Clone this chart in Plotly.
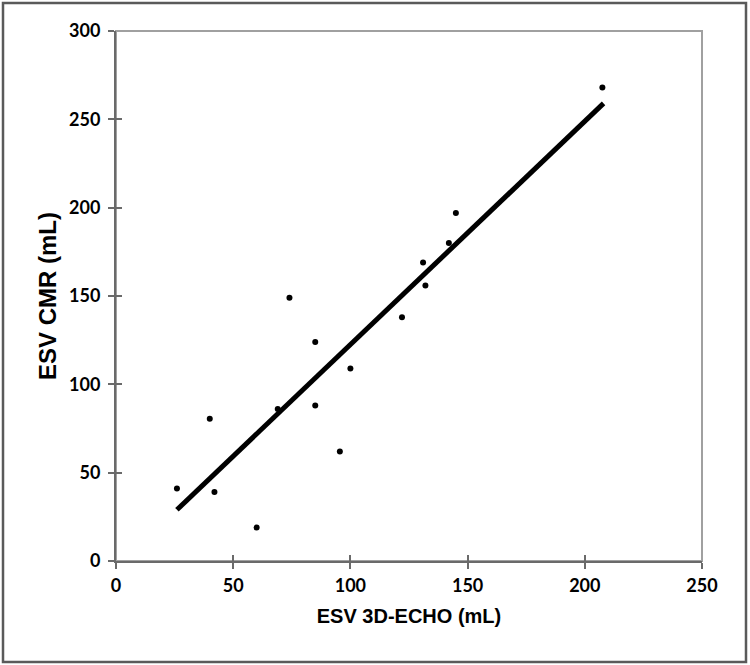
import plotly.graph_objects as go

# Data
esv_echo = [26, 40, 42, 60, 69, 74, 85, 85, 95.5, 100, 122, 131, 132, 142, 145, 207.5]
esv_cmr = [41, 80.5, 39, 19, 86, 149, 124, 88, 62, 109, 138, 169, 156, 180, 197, 268]
fit_x = [26, 208]
fit_y = [29, 259]
x_ticks = [0, 50, 100, 150, 200, 250]
y_ticks = [0, 50, 100, 150, 200, 250, 300]

W, H = 750, 665
L, R, T, B = 116, 48, 31, 104
pw, ph = W - L - R, H - T - B

def px_to_paper_x(px):
    return (px - L) / pw

def px_to_paper_y(py):
    return (H - B - py) / ph

fig = go.Figure()
fig.add_trace(go.Scatter(x=fit_x, y=fit_y, mode="lines",
                         line=dict(color="black", width=5), showlegend=False,
                         hoverinfo="skip"))
fig.add_trace(go.Scatter(x=esv_echo, y=esv_cmr, mode="markers",
                         marker=dict(color="black", size=6), showlegend=False))
# invisible trace for overlay axes (inside ticks)
fig.add_trace(go.Scatter(x=[None], y=[None], xaxis="x2", yaxis="y2", showlegend=False))

tickfont = dict(family="Lato", size=18, color="black", weight="bold")
xtitlefont = dict(family="Liberation Sans", size=20, color="black", weight="bold")
ytitlefont = dict(family="Liberation Sans", size=24, color="black", weight="bold")
axcol = "#6a6a6a"

fig.update_layout(
    width=W, height=H,
    margin=dict(l=L, r=R, t=T, b=B),
    paper_bgcolor="white", plot_bgcolor="white",
    xaxis=dict(range=[0, 250], tickvals=x_ticks, ticks="outside", ticklen=6,
               tickwidth=1.5, tickcolor=axcol, showline=True, linecolor=axcol,
               linewidth=2, showgrid=False, zeroline=False, tickfont=tickfont,
               title=dict(text="ESV 3D-ECHO (mL)", font=xtitlefont, standoff=14),
               automargin=False, ticklabelstandoff=1),
    yaxis=dict(range=[0, 300], tickvals=y_ticks, ticks="outside", ticklen=6,
               tickwidth=1.5, tickcolor=axcol, showline=True, linecolor=axcol,
               linewidth=2, showgrid=False, zeroline=False, tickfont=tickfont,
               title=dict(text="ESV CMR (mL)", font=ytitlefont, standoff=6),
               automargin=False, ticklabelstandoff=4),
    xaxis2=dict(range=[0, 250], tickvals=x_ticks, ticks="inside", ticklen=6,
                tickwidth=1.5, tickcolor=axcol, showticklabels=False,
                showgrid=False, zeroline=False, overlaying="x", anchor="y"),
    yaxis2=dict(range=[0, 300], tickvals=y_ticks, ticks="inside", ticklen=6,
                tickwidth=1.5, tickcolor=axcol, showticklabels=False,
                showgrid=False, zeroline=False, overlaying="y", anchor="x"),
    shapes=[
        dict(type="rect", xref="paper", yref="paper", x0=0, x1=1, y0=0, y1=1,
             line=dict(color="#a0a0a0", width=2), layer="below"),
        dict(type="rect", xref="paper", yref="paper",
             x0=px_to_paper_x(3), x1=px_to_paper_x(746),
             y0=px_to_paper_y(662), y1=px_to_paper_y(3),
             line=dict(color="#5a5a5a", width=2.5), layer="below"),
    ],
)

fig.write_html("out.html")
